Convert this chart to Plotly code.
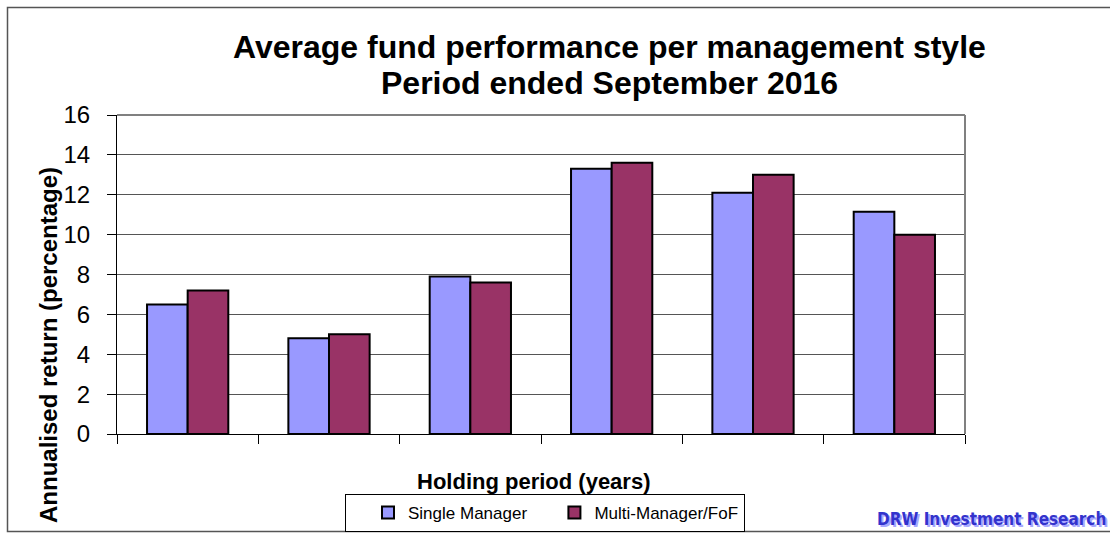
import plotly.graph_objects as go

categories = ["1", "3", "5", "10", "15", "20"]
single_manager = [6.5, 4.8, 7.9, 13.3, 12.1, 11.15]
multi_manager = [7.2, 5.0, 7.6, 13.6, 13.0, 10.0]
series_names = ["Single Manager", "Multi-Manager/FoF"]
y_ticks = [0, 2, 4, 6, 8, 10, 12, 14, 16]

W, H = 1110, 534
L, R, T, B = 117, 965, 115, 434  # plot area in pixels


def px(x):
    return (x - L) / (R - L)


def py(y):
    return (B - y) / (B - T)


fig = go.Figure()
fig.add_trace(go.Bar(x=categories, y=single_manager, name=series_names[0],
                     marker=dict(color="#9999FF", line=dict(color="black", width=2))))
fig.add_trace(go.Bar(x=categories, y=multi_manager, name=series_names[1],
                     marker=dict(color="#993366", line=dict(color="black", width=2))))

font = "Liberation Sans, Arial, sans-serif"

fig.update_layout(
    width=W, height=H,
    margin=dict(l=L, r=W - R, t=T, b=H - B, pad=0, autoexpand=False),
    paper_bgcolor="white", plot_bgcolor="white",
    barmode="group", bargap=0.425, bargroupgap=0,
    showlegend=True,
    legend=dict(orientation="h", x=px(545), y=py(532), xanchor="center", yanchor="bottom",
                bordercolor="black", borderwidth=1, font=dict(family=font, size=17, color="black"),
                itemwidth=30, tracegroupgap=0, indentation=22),
    font=dict(family=font, color="black"),
)
fig.update_xaxes(type="category", showticklabels=False, ticks="outside", tickson="boundaries",
                 ticklen=9, tickcolor="black", showline=True, linecolor="black", linewidth=1,
                 showgrid=False, zeroline=False)
fig.update_yaxes(range=[0, 16], tickvals=y_ticks, ticks="outside", ticklen=9, tickcolor="black",
                 ticklabelstandoff=12,
                 showline=True, linecolor="black", linewidth=1, showgrid=True, gridcolor="#555555",
                 gridwidth=1, zeroline=False, tickfont=dict(family=font, size=24, color="black"))

# plot area right/top border
fig.add_shape(type="line", xref="paper", yref="paper", x0=0, x1=1, y0=1, y1=1,
              line=dict(color="#808080", width=2))
fig.add_shape(type="line", xref="paper", yref="paper", x0=1, x1=1, y0=0, y1=1,
              line=dict(color="#808080", width=2))
# outer chart border (right edge runs off the picture)
fig.add_shape(type="rect", xref="paper", yref="paper", x0=px(7.5), x1=px(1120), y0=py(7.5), y1=py(531.5),
              line=dict(color="#555555", width=1.5))

fig.add_annotation(text="<b>Average fund performance per management style</b>", xref="paper", yref="paper",
                   x=px(609), y=py(47), showarrow=False, xanchor="center", yanchor="middle",
                   font=dict(family=font, size=32, color="black"))
fig.add_annotation(text="<b>Period ended September 2016</b>", xref="paper", yref="paper",
                   x=px(609), y=py(83), showarrow=False, xanchor="center", yanchor="middle",
                   font=dict(family=font, size=32, color="black"))
fig.add_annotation(text="<b>Annualised return (percentage)</b>", xref="paper", yref="paper",
                   x=px(48), y=py(345), showarrow=False, textangle=-90, xanchor="center", yanchor="middle",
                   font=dict(family=font, size=24, color="black"))
fig.add_annotation(text="<b>Holding period (years)</b>", xref="paper", yref="paper",
                   x=px(533), y=py(481), showarrow=False, xanchor="center", yanchor="middle",
                   font=dict(family=font, size=22, color="black"))
# watermark with shadow
narrow = "DejaVu Sans Condensed, Liberation Sans Narrow, sans-serif"
fig.add_annotation(text="<b>DRW Investment Research</b>", xref="paper", yref="paper",
                   x=px(1110), y=py(521), showarrow=False, xanchor="right", yanchor="middle",
                   font=dict(family=narrow, size=17, color="#A8A8FF"))
fig.add_annotation(text="<b>DRW Investment Research</b>", xref="paper", yref="paper",
                   x=px(1108), y=py(519), showarrow=False, xanchor="right", yanchor="middle",
                   font=dict(family=narrow, size=17, color="#3333CC"))

fig.write_html("out.html", config={"displayModeBar": False},
               post_script="document.body.style.margin='0';document.body.style.overflow='hidden';")
